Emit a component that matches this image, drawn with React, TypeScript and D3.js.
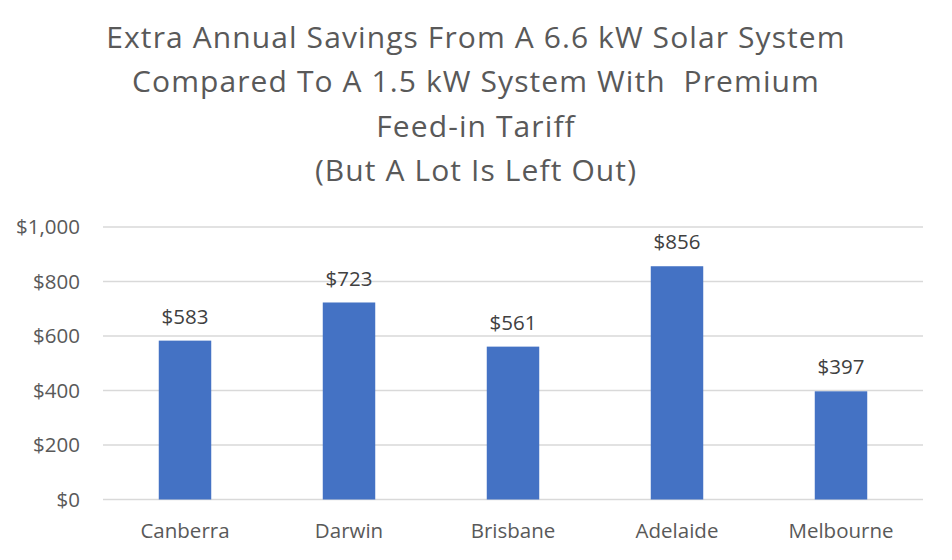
import React from "react";
import * as d3 from "d3";

const categories = ["Canberra", "Darwin", "Brisbane", "Adelaide", "Melbourne"];
const values = [583, 723, 561, 856, 397];
const yTicks = [0, 200, 400, 600, 800, 1000];
const titleLines = [
  "Extra Annual Savings From A 6.6 kW Solar System",
  "Compared To A 1.5 kW System With  Premium",
  "Feed-in Tariff",
  "(But A Lot Is Left Out)",
];

const W = 952;
const H = 560;
const FONT = "'Open Sans', Lato, sans-serif";

export default function App() {
  const x = d3.scaleBand<string>().domain(categories).range([103, 923]).paddingInner(0.68).paddingOuter(0.34);
  const y = d3.scaleLinear().domain([0, 1000]).range([499.5, 227]);
  const fmt = (v: number) => "$" + d3.format(",")(v);
  return (
    <svg width={W} height={H} style={{ position: "absolute", left: 0, top: 0, background: "#fff" }}>
      <g fontFamily={FONT}>
        {titleLines.map((t, i) => (
          <text key={i} x={476} y={37.5 + i * 44.3} dy="0.35em" textAnchor="middle" fontSize={30} letterSpacing={1.1} fill="#595959" xmlSpace="preserve" style={{ whiteSpace: "pre" }}>
            {t}
          </text>
        ))}
        {yTicks.map((t) => (
          <g key={t}>
            <line x1={103} x2={923} y1={y(t)} y2={y(t)} stroke="#d9d9d9" strokeWidth={1.5} />
            <text x={80} y={y(t)} dy="0.35em" textAnchor="end" fontSize={20.5} fill="#595959">
              {fmt(t)}
            </text>
          </g>
        ))}
        {categories.map((c, i) => (
          <g key={c}>
            <rect x={x(c)} y={y(values[i])} width={x.bandwidth()} height={y(0) - y(values[i])} fill="#4472C4" />
            <text x={(x(c) as number) + x.bandwidth() / 2} y={y(values[i]) - 24} dy="0.35em" textAnchor="middle" fontSize={20.5} fill="#404040">
              {fmt(values[i])}
            </text>
            <text x={(x(c) as number) + x.bandwidth() / 2} y={531} dy="0.35em" textAnchor="middle" fontSize={20.5} fill="#595959">
              {c}
            </text>
          </g>
        ))}
      </g>
    </svg>
  );
}
